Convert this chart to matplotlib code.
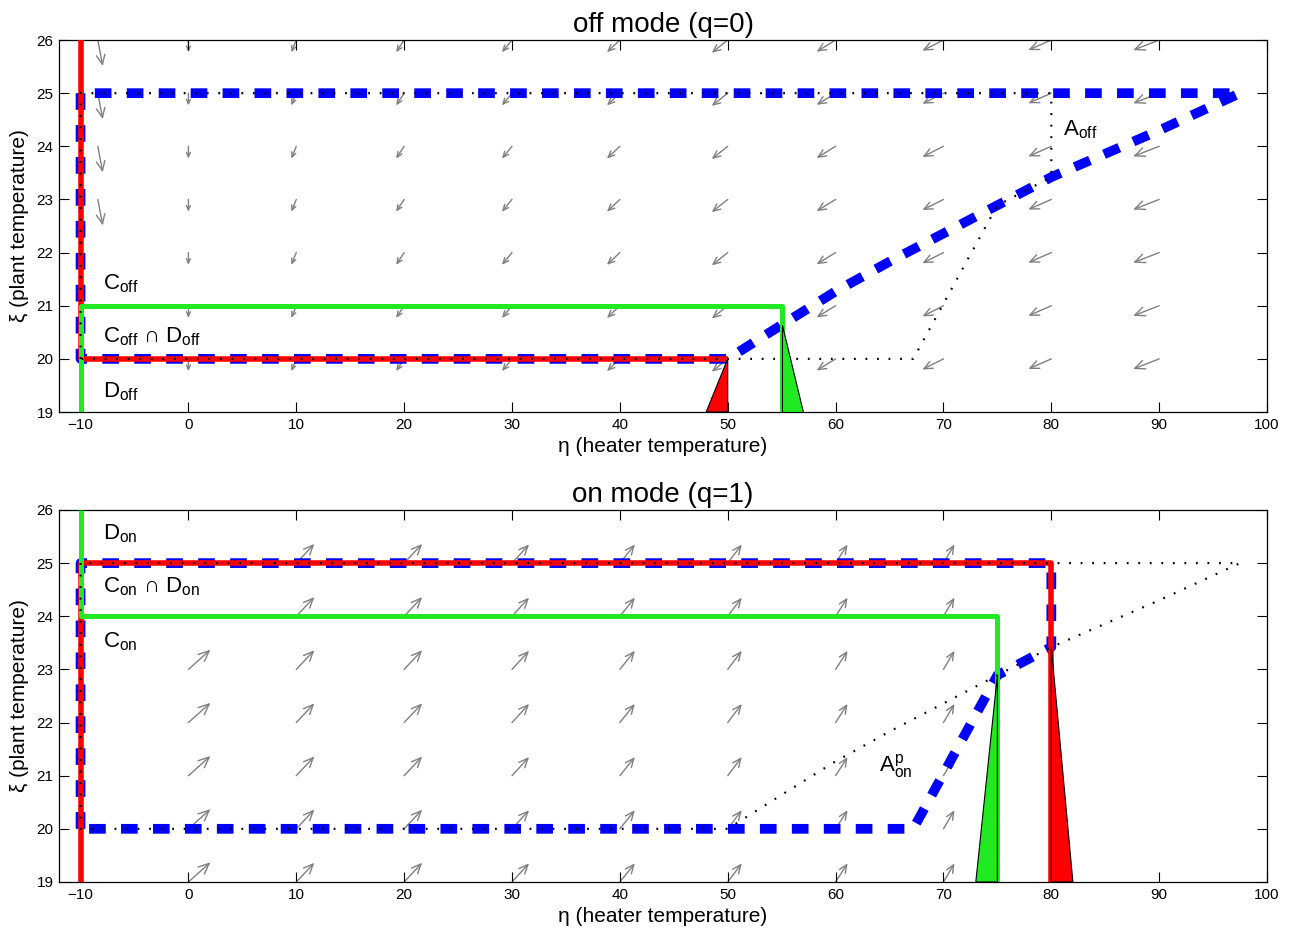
import numpy as np
import matplotlib
matplotlib.use("Agg")
import matplotlib.pyplot as plt
from matplotlib.patches import FancyArrowPatch, Polygon

plt.rcParams['font.family'] = ['Liberation Sans', 'DejaVu Sans']
plt.rcParams['mathtext.fontset'] = 'custom'
plt.rcParams['mathtext.rm'] = 'Liberation Sans'
plt.rcParams['mathtext.it'] = 'Liberation Sans:italic'
plt.rcParams['mathtext.fallback'] = 'stixsans'
plt.rcParams['lines.scale_dashes'] = False

# set outlines (eta = heater, xi = plant)
setA_eta = [-10, -10, 80, 80, 75, 67.2, -10]
setA_xi = [20, 25, 25, 23.42, 22.89, 20, 20]
setB_eta = [-10, -10, 50, 55, 60, 65, 70, 75, 80, 90, 97.5, -10]
setB_xi = [25, 20, 20, 20.64, 21.27, 21.83, 22.36, 22.89, 23.42, 24.3, 25, 25]

# flow / jump set borders
off_jump_eta = [-10, -10, 50]
off_jump_xi = [26, 20, 20]
off_flow_eta = [-10, -10, 55, 55]
off_flow_xi = [19, 21, 21, 19]
on_jump_eta = [-10, -10, 80, 80]
on_jump_xi = [19, 25, 25, 19]
on_flow_eta = [-10, -10, 75, 75]
on_flow_xi = [26, 24, 24, 19]

# small triangles at the switching lines
off_red_eta = [48, 50, 50]
off_red_xi = [19, 20, 19]
off_green_eta = [55, 55, 57]
off_green_xi = [20.64, 19, 19]
on_green_eta = [73, 75, 75]
on_green_xi = [19, 22.89, 19]
on_red_eta = [80, 80, 82]
on_red_xi = [19, 23.42, 19]

# vector field, off mode
off_cols = [0, 10, 20, 30, 40, 50, 60, 70, 80, 90]
off_rows = [20, 21, 22, 23, 24, 25, 26]
off_u = [0.0, -0.46, -0.74, -0.93, -1.2, -1.48, -1.76, -1.95, -2.13, -2.41]
off_v = [-0.23, -0.23, -0.23, -0.23, -0.23, -0.24, -0.22, -0.2, -0.19, -0.19]
off_edge_eta = -8.4
off_edge_rows = [23, 24, 25, 26]
off_edge_u = 0.46
off_edge_v = -0.49

# vector field, on mode
on_cols = [0, 10, 20, 30, 40, 50, 60, 70]
on_rows = [19, 20, 21, 22, 23, 24, 25]
on_rows_first = [19, 20, 21, 22, 23]
on_u = [2.04, 1.67, 1.67, 1.58, 1.39, 1.3, 1.11, 1.02]
on_v = [0.37, 0.36, 0.36, 0.35, 0.35, 0.35, 0.35, 0.35]

fig = plt.figure(figsize=(12.99, 9.33), dpi=100)
ax1 = fig.add_axes([0.0454, 0.5584, 0.930, 0.3987])
ax2 = fig.add_axes([0.0454, 0.0547, 0.930, 0.3987])

RED = '#ff0000'
GREEN = '#22ea22'
BLUE = '#0000ff'


def arrow(ax, x, y, u, v):
    p0 = ax.transData.transform((x, y))
    p1 = ax.transData.transform((x + u, y + v))
    L = np.hypot(*(p1 - p0)) * 72 / fig.dpi
    a = FancyArrowPatch((x, y), (x + u, y + v),
                        arrowstyle='->,head_length=0.36,head_width=0.16',
                        mutation_scale=L, color='#808080', lw=1.0,
                        shrinkA=0, shrinkB=0, zorder=1)
    ax.add_patch(a)


def setup(ax, title):
    ax.set_xlim(-12, 100)
    ax.set_ylim(19, 26)
    ax.set_xticks(range(-10, 101, 10))
    ax.set_yticks(range(19, 27))
    ax.tick_params(direction='in', top=True, right=True, length=7,
                   labelsize=11, pad=4)
    ax.set_xlabel('η (heater temperature)', fontsize=15, labelpad=4)
    ax.set_ylabel('ξ (plant temperature)', fontsize=15, labelpad=5)
    ax.set_title(title, fontsize=20, pad=6)
    for s in ax.spines.values():
        s.set_linewidth(0.9)


setup(ax1, 'off mode (q=0)')
setup(ax2, 'on mode (q=1)')

# ---- off mode ----
for j, c in enumerate(off_cols):
    for r in off_rows:
        arrow(ax1, c, r, off_u[j], off_v[j])
for r in off_edge_rows:
    arrow(ax1, off_edge_eta, r, off_edge_u, off_edge_v)

ax1.plot(setB_eta, setB_xi, color=BLUE, lw=7, linestyle=(0, (12, 11)),
         dash_capstyle='butt', zorder=2)
ax1.plot(off_jump_eta, off_jump_xi, color=RED, lw=4, zorder=3,
         solid_capstyle='butt')
ax1.plot(off_flow_eta, off_flow_xi, color=GREEN, lw=3.6, zorder=4,
         solid_capstyle='butt')
ax1.plot(setA_eta, setA_xi, color='black', lw=1.6, linestyle=(0, (1.3, 7)),
         zorder=5)
ax1.add_patch(Polygon(np.column_stack([off_red_eta, off_red_xi]),
                      facecolor=RED, edgecolor='black', lw=0.8, zorder=6))
ax1.add_patch(Polygon(np.column_stack([off_green_eta, off_green_xi]),
                      facecolor=GREEN, edgecolor='black', lw=0.8, zorder=6))

ax1.text(-7.9, 21.31, r'C$_{\mathrm{off}}$', fontsize=16)
ax1.text(-7.9, 20.31, r'C$_{\mathrm{off}}$ $\cap$ D$_{\mathrm{off}}$', fontsize=16)
ax1.text(-7.9, 19.28, r'D$_{\mathrm{off}}$', fontsize=16)
ax1.text(81.1, 24.21, r'A$_{\mathrm{off}}$', fontsize=16)

# ---- on mode ----
for j, c in enumerate(on_cols):
    rows = on_rows_first if j == 0 else on_rows
    for r in rows:
        arrow(ax2, c, r, on_u[j], on_v[j])

ax2.plot(setA_eta, setA_xi, color=BLUE, lw=7, linestyle=(0, (12, 11)),
         dash_capstyle='butt', zorder=2)
ax2.plot(on_jump_eta, on_jump_xi, color=RED, lw=4, zorder=3,
         solid_capstyle='butt')
ax2.plot(on_flow_eta, on_flow_xi, color=GREEN, lw=3.6, zorder=4,
         solid_capstyle='butt')
ax2.plot(setB_eta, setB_xi, color='black', lw=1.6, linestyle=(0, (1.3, 7)),
         zorder=5)
ax2.add_patch(Polygon(np.column_stack([on_green_eta, on_green_xi]),
                      facecolor=GREEN, edgecolor='black', lw=0.8, zorder=6))
ax2.add_patch(Polygon(np.column_stack([on_red_eta, on_red_xi]),
                      facecolor=RED, edgecolor='black', lw=0.8, zorder=6))

ax2.text(-7.9, 25.45, r'D$_{\mathrm{on}}$', fontsize=16)
ax2.text(-7.9, 24.44, r'C$_{\mathrm{on}}$ $\cap$ D$_{\mathrm{on}}$', fontsize=16)
ax2.text(-7.9, 23.42, r'C$_{\mathrm{on}}$', fontsize=16)
ax2.text(64.0, 21.07, r'A$^{\mathrm{p}}_{\mathrm{on}}$', fontsize=16)

fig.savefig('out.png', dpi=100)
